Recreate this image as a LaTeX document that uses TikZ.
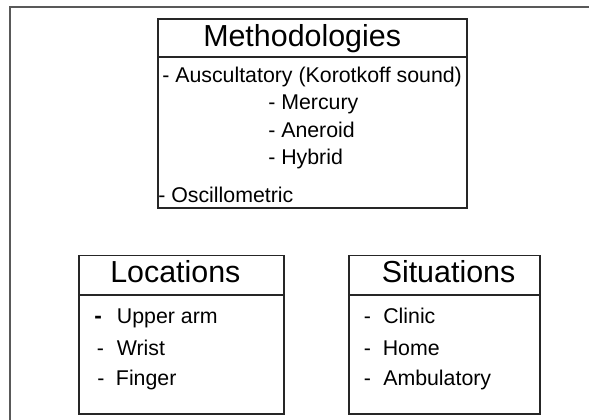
\documentclass[tikz,border=0pt]{standalone}
\usepackage{fontspec}
\setmainfont{Liberation Sans}
\usetikzlibrary{fit}
\begin{document}
\begin{tikzpicture}[x=0.75pt,y=-0.75pt,
  boxst/.style={draw=black!85,line width=0.8pt,inner sep=0pt},
  divst/.style={draw=black!85,line width=0.8pt},
  titlest/.style={anchor=base west,inner sep=0pt,font=\fontsize{22.8}{26}\selectfont},
  itemst/.style={anchor=base west,inner sep=0pt,font=\fontsize{16}{19}\selectfont},
  framest/.style={draw=black!65,line width=1.5pt}]
\useasboundingbox (0,0) rectangle (589,420);
% outer frame (only top and left visible)
\coordinate (fbl) at (9.8,420);
\coordinate (ftl) at (9.8,6.8);
\coordinate (ftr) at (589,6.8);
\draw[framest] (fbl) -- (ftl) -- (ftr);
% Methodologies box
\coordinate (m1) at (158,19);
\coordinate (m2) at (467,208);
\node[boxst,fit={(m1)(m2)}] (meth) {};
\coordinate (md1) at (158,57);
\coordinate (md2) at (467,57);
\draw[divst] (md1) -- (md2);
\node[titlest] (mt) at (203,47) {Methodologies};
\node[itemst] (ma) at (162,83) {- Auscultatory (Korotkoff sound)};
\node[itemst] (mm) at (268,110) {- Mercury};
\node[itemst] (mn) at (268,138) {- Aneroid};
\node[itemst] (mh) at (268,165) {- Hybrid};
\node[itemst] (mo) at (158,203) {- Oscillometric};
% Locations box
\coordinate (l1) at (79,255.5);
\coordinate (l2) at (284,414);
\node[boxst,fit={(l1)(l2)}] (loc) {};
\coordinate (ld1) at (79,295);
\coordinate (ld2) at (284,295);
\draw[divst] (ld1) -- (ld2);
\node[titlest] (lt) at (110,283) {Locations};
\node[itemst,font=\fontsize{17}{19}\selectfont\bfseries] (ldu) at (94,324) {-};
\node[itemst] (lu) at (116.7,324) {Upper arm};
\node[itemst] (ldw) at (96.5,355) {-};
\node[itemst] (lw) at (116.5,355) {Wrist};
\node[itemst] (ldf) at (97,385) {-};
\node[itemst] (lf) at (115.7,385) {Finger};
% Situations box
\coordinate (s1) at (349,255.5);
\coordinate (s2) at (540,414);
\node[boxst,fit={(s1)(s2)}] (sit) {};
\coordinate (sd1) at (349,295);
\coordinate (sd2) at (540,295);
\draw[divst] (sd1) -- (sd2);
\node[titlest] (st) at (381.5,283) {Situations};
\node[itemst] (sdc) at (363.5,324) {-};
\node[itemst] (sc) at (383,324) {Clinic};
\node[itemst] (sdh) at (363.5,355) {-};
\node[itemst] (sh) at (382.5,355) {Home};
\node[itemst] (sda) at (363.5,385) {-};
\node[itemst] (sa) at (383,385) {Ambulatory};
\end{tikzpicture}
\end{document}
